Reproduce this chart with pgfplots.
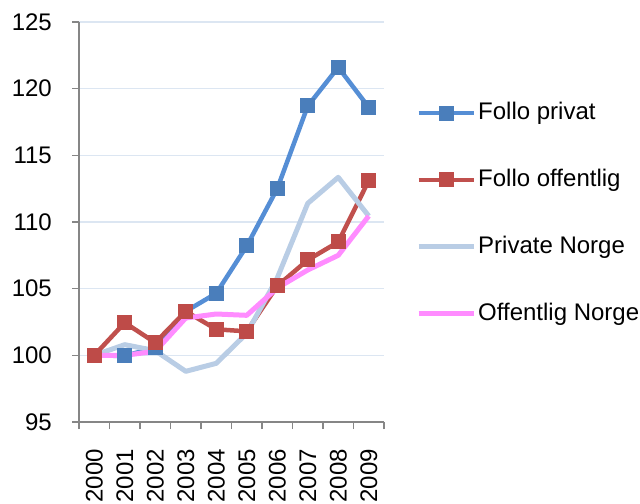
\documentclass[border=0pt]{standalone}
\usepackage{fontspec}
\setmainfont{Liberation Sans}
\usepackage{pgfplots}
\pgfplotsset{compat=1.18}
\definecolor{fpline}{HTML}{558ED5}
\definecolor{fpmark}{HTML}{4A7EBB}
\definecolor{foline}{HTML}{C0504D}
\definecolor{fomark}{HTML}{BE4B48}
\definecolor{pncol}{HTML}{B9CDE5}
\definecolor{oncol}{HTML}{FF8CFF}
\definecolor{gridc}{HTML}{DCE6F2}
\definecolor{axisgray}{HTML}{868686}
\begin{document}
\fontsize{24bp}{28bp}\selectfont
\begin{tikzpicture}
\useasboundingbox (0,0) rectangle (640bp,504bp);
\begin{axis}[
  at={(79bp,82bp)}, anchor=south west,
  scale only axis, width=305bp, height=400bp,
  xmin=-0.5, xmax=9.5, ymin=95, ymax=125,
  ytick={95,100,...,125},
  xtick={-0.5,0.5,...,9.5},
  xticklabels={2000,2001,2002,2003,2004,2005,2006,2007,2008,2009},
  x tick label as interval,
  axis lines*=left,
  axis line style={draw=axisgray, line width=1.5bp},
  tick align=outside,
  major tick length=7bp,
  tick style={draw=axisgray, line width=1.5bp},
  ymajorgrids,
  grid style={draw=gridc, line width=1.5bp},
  x tick label style={rotate=90, anchor=east},
  xticklabel shift=12bp,
  yticklabel shift=12bp,
  /pgf/number format/assume math mode=true,
  tick label style={font=\fontsize{24bp}{28bp}\selectfont},
  legend style={at={(1.105,0.522)}, anchor=west, draw=none, fill=none,
    font=\fontsize{24bp}{28bp}\selectfont, row sep=41.8bp, inner sep=0pt,
    nodes={inner xsep=2bp}},
  legend cell align=left,
  legend image code/.code={\draw[mark repeat=2,mark phase=2,#1] plot coordinates {(0bp,0bp) (27.5bp,0bp) (55bp,0bp)};},
  line join=round,
]
\addplot[fpline, line width=4.5bp, mark=square*, mark size=7bp, mark options={fill=fpmark, draw=fpmark, line width=0pt}]
coordinates {(0,100) (1,99.95) (2,100.6) (3,103.3) (4,104.65) (5,108.2) (6,112.5) (7,118.7) (8,121.6) (9,118.6)};
\addlegendentry{Follo privat}
\addplot[foline, line width=4.5bp, mark=square*, mark size=7bp, mark options={fill=fomark, draw=fomark, line width=0pt}]
coordinates {(0,100) (1,102.45) (2,100.95) (3,103.3) (4,101.95) (5,101.8) (6,105.2) (7,107.15) (8,108.5) (9,113.1)};
\addlegendentry{Follo offentlig}
\addplot[pncol, line width=5bp, no marks]
coordinates {(0,100) (1,100.8) (2,100.35) (3,98.8) (4,99.4) (5,101.65) (6,105.8) (7,111.4) (8,113.35) (9,110.45)};
\addlegendentry{Private Norge}
\addplot[oncol, line width=5bp, no marks]
coordinates {(0,100) (1,100.0) (2,100.3) (3,102.8) (4,103.1) (5,103.0) (6,105.05) (7,106.4) (8,107.5) (9,110.45)};
\addlegendentry{Offentlig Norge}
\end{axis}
\end{tikzpicture}
\end{document}
